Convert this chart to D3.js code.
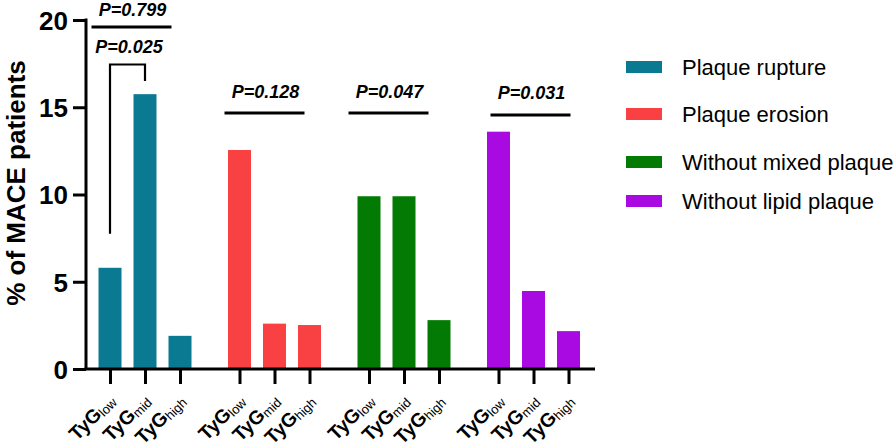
<!DOCTYPE html>
<html>
<head>
<meta charset="utf-8">
<script src="https://cdn.jsdelivr.net/npm/d3@7/dist/d3.min.js"></script>
<style>
  html, body { margin: 0; padding: 0; background: #fff; }
  svg { display: block; font-family: "Liberation Sans", Arial, sans-serif; }
</style>
</head>
<body>
<svg id="chart" width="896" height="447"></svg>
<script>
// ---- data ----
const groups = ["Plaque rupture", "Plaque erosion", "Without mixed plaque", "Without lipid plaque"];
const levels = ["low", "mid", "high"];
const ruptureValues = [5.8, 15.75, 1.9];
const erosionValues = [12.55, 2.6, 2.52];
const mixedValues = [9.9, 9.9, 2.8];
const lipidValues = [13.6, 4.47, 2.17];
const groupColors = ["#0a7a92", "#f94144", "#037a03", "#a90ae1"];
const yTicks = [0, 5, 10, 15, 20];
const pLabels = ["P=0.799", "P=0.128", "P=0.047", "P=0.031"];
const pLineValues = [19.6, 14.67, 14.67, 14.56];
const pairLabel = "P=0.025";
const yLabel = "% of MACE patients";

const seriesValues = [ruptureValues, erosionValues, mixedValues, lipidValues];

// ---- layout ----
const svg = d3.select("#chart");
const y0px = 369, y20px = 20;
const y = d3.scaleLinear().domain([0, 20]).range([y0px, y20px]);
const outer = d3.scaleBand().domain(groups).range([80.25, 598.25]).padding(0);
const inner = d3.scaleBand().domain(levels).range([0, 105]).paddingInner(12 / 35).paddingOuter(6 / 35);
const innerOffset = (outer.bandwidth() - 105) / 2;
const barX = (g, l) => outer(g) + innerOffset + inner(l);
const barC = (g, l) => barX(g, l) + inner.bandwidth() / 2;

// bars
const barData = [];
groups.forEach((g, gi) => levels.forEach((l, li) => barData.push({ g, gi, l, v: seriesValues[gi][li] })));
svg.append("g").selectAll("rect").data(barData).join("rect")
  .attr("x", d => barX(d.g, d.l))
  .attr("width", inner.bandwidth())
  .attr("y", d => y(d.v))
  .attr("height", d => y(0) - y(d.v))
  .attr("fill", d => groupColors[d.gi]);

// y axis
const axisX = 86;
const yAxis = svg.append("g").attr("transform", `translate(${axisX},0)`)
  .call(d3.axisLeft(y).tickValues(yTicks).tickSize(13).tickPadding(5).tickSizeOuter(0));
yAxis.select(".domain").attr("stroke", "#000").attr("stroke-width", 3).attr("d", `M0,${y20px - 1.5}V${y0px}`);
yAxis.selectAll(".tick line").attr("stroke", "#000").attr("stroke-width", 3);
yAxis.selectAll(".tick text").attr("font-size", 26).attr("font-weight", "bold").attr("fill", "#000")
  .attr("font-family", "'Liberation Sans', Arial, sans-serif").attr("dy", "0.36em");

// x axis
const keys = barData.map(d => d.g + "|" + d.l);
const xKey = d3.scaleOrdinal().domain(keys).range(barData.map(d => barC(d.g, d.l)));
const xAxis = svg.append("g").attr("transform", `translate(0,${y0px})`)
  .call(d3.axisBottom(xKey).tickValues(keys).tickSize(15).tickFormat(""));
xAxis.select(".domain").attr("stroke", "#000").attr("stroke-width", 3).attr("d", `M${axisX - 1.5},0H595`);
xAxis.selectAll(".tick line").attr("stroke", "#000").attr("stroke-width", 3);
xAxis.selectAll(".tick").each(function (k) {
  const lvl = k.split("|")[1];
  const t = d3.select(this).append("text")
    .attr("transform", "translate(6,33) rotate(-45)")
    .attr("text-anchor", "end")
    .attr("fill", "#000");
  t.append("tspan").attr("font-size", 19.5).attr("font-weight", "bold").text("TyG");
  t.append("tspan").attr("font-size", 13).attr("dy", 2).text(lvl);
});

// y label
svg.append("text")
  .attr("transform", `translate(25,183) rotate(-90)`)
  .attr("text-anchor", "middle")
  .attr("font-size", 26).attr("font-weight", "bold").attr("fill", "#000")
  .text(yLabel);

// p-value annotations
const lineOffsets = [-13.5, -10, -15.5, -3];
const lineW = 80;
groups.forEach((g, gi) => {
  const cx = outer(g) + outer.bandwidth() / 2 + lineOffsets[gi];
  const ly = y(pLineValues[gi]);
  svg.append("line").attr("x1", cx - lineW / 2).attr("x2", cx + lineW / 2)
    .attr("y1", ly).attr("y2", ly).attr("stroke", "#000").attr("stroke-width", 3);
  svg.append("text").attr("x", cx + 1).attr("y", Math.max(16, ly - 15.5))
    .attr("text-anchor", "middle").attr("font-size", 18).attr("font-weight", "bold")
    .attr("font-style", "italic").attr("fill", "#000").text(pLabels[gi]);
});

// pairwise bracket low vs mid (rupture)
{
  const g = groups[0];
  const xl = barC(g, "low"), xm = barC(g, "mid");
  const top = y(17.45), lBot = y(7.75), rBot = y(16.5);
  svg.append("path")
    .attr("d", `M${xl},${lBot}V${top}H${xm}V${rBot}`)
    .attr("fill", "none").attr("stroke", "#000").attr("stroke-width", 2.2);
  svg.append("text").attr("x", (xl + xm) / 2 + 1.5).attr("y", 53)
    .attr("text-anchor", "middle").attr("font-size", 18).attr("font-weight", "bold")
    .attr("font-style", "italic").attr("fill", "#000").text(pairLabel);
}

// legend
const legendY = [61, 108, 156, 195];
const legend = svg.append("g");
groups.forEach((g, gi) => {
  legend.append("rect").attr("x", 626).attr("y", legendY[gi]).attr("width", 36).attr("height", 12)
    .attr("fill", groupColors[gi]);
  legend.append("text").attr("x", 682).attr("y", legendY[gi] + 14)
    .attr("font-size", 22).attr("fill", "#000").text(g);
});
</script>
</body>
</html>
